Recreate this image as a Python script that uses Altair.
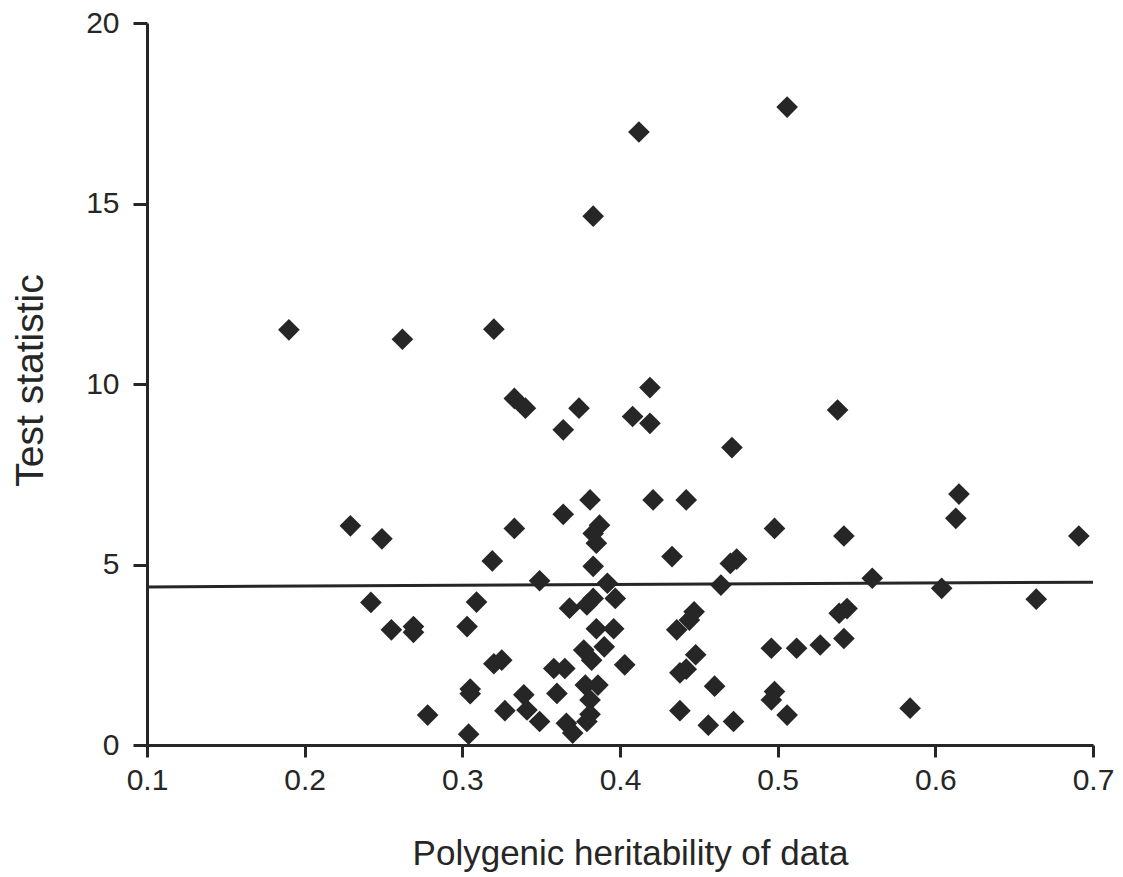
import altair as alt
import pandas as pd

# Scatter points (heritability, test statistic)
herit = [0.190, 0.262, 0.320, 0.383, 0.412, 0.506, 0.333, 0.340, 0.374, 0.364,
         0.419, 0.408, 0.419, 0.471, 0.538, 0.381, 0.421, 0.442, 0.364, 0.333,
         0.498, 0.387, 0.383, 0.385, 0.229, 0.249, 0.319, 0.383, 0.433, 0.470,
         0.474, 0.615, 0.613, 0.691, 0.542, 0.349, 0.392, 0.464, 0.560, 0.604,
         0.664, 0.242, 0.309, 0.397, 0.383, 0.379, 0.368, 0.447, 0.444, 0.436,
         0.539, 0.544, 0.255, 0.269, 0.269, 0.303, 0.385, 0.396, 0.542, 0.377,
         0.390, 0.382, 0.403, 0.496, 0.512, 0.527, 0.320, 0.325, 0.358, 0.365,
         0.448, 0.442, 0.438, 0.305, 0.305, 0.360, 0.339, 0.341, 0.327, 0.349,
         0.378, 0.386, 0.381, 0.381, 0.379, 0.366, 0.370, 0.304, 0.278, 0.460,
         0.498, 0.496, 0.506, 0.438, 0.456, 0.472, 0.584]
stat = [11.50, 11.24, 11.52, 14.65, 16.98, 17.67, 9.60, 9.33, 9.33, 8.73,
        9.90, 9.10, 8.91, 8.24, 9.28, 6.79, 6.79, 6.79, 6.39, 6.00,
        6.00, 6.09, 5.86, 5.59, 6.07, 5.71, 5.10, 4.95, 5.22, 5.03,
        5.15, 6.95, 6.28, 5.79, 5.79, 4.55, 4.48, 4.43, 4.62, 4.34,
        4.04, 3.95, 3.96, 4.06, 4.06, 3.88, 3.79, 3.69, 3.46, 3.19,
        3.65, 3.78, 3.19, 3.28, 3.12, 3.28, 3.22, 3.22, 2.95, 2.63,
        2.72, 2.35, 2.22, 2.68, 2.68, 2.77, 2.25, 2.35, 2.12, 2.12,
        2.50, 2.10, 2.00, 1.55, 1.42, 1.43, 1.39, 0.97, 0.95, 0.65,
        1.66, 1.66, 1.25, 0.85, 0.65, 0.60, 0.33, 0.30, 0.83, 1.63,
        1.48, 1.25, 0.83, 0.95, 0.55, 0.65, 1.02]

# Fitted line end points
line_x = [0.1, 0.7]
line_y = [4.38, 4.51]

x_ticks = [0.1, 0.2, 0.3, 0.4, 0.5, 0.6, 0.7]
y_ticks = [0, 5, 10, 15, 20]

pts = pd.DataFrame({"h": herit, "t": stat})
ln = pd.DataFrame({"h": line_x, "t": line_y})

FONT = "Liberation Sans"
INK = "#262626"

xscale = alt.Scale(domain=[0.1, 0.7], nice=False, zero=False)
yscale = alt.Scale(domain=[0, 20], nice=False)

xaxis = alt.Axis(title="Polygenic heritability of data", values=x_ticks, format=".1f",
                 grid=False, domainColor=INK, domainWidth=3, tickColor=INK, tickWidth=3,
                 tickSize=12, labelPadding=8, labelFont=FONT, labelFontSize=30,
                 labelColor=INK, labelFlush=False,
                 titleFont=FONT, titleFontSize=35, titleFontWeight="normal",
                 titleColor=INK, titleX=483, titleY=108, titleBaseline="middle",
                 titleAlign="center")
yaxis = alt.Axis(title="Test statistic", values=y_ticks, format="d",
                 grid=False, domainColor=INK, domainWidth=3, tickColor=INK, tickWidth=3,
                 tickSize=14, labelPadding=14, labelFont=FONT, labelFontSize=30,
                 labelColor=INK, labelFlush=False,
                 titleFont=FONT, titleFontSize=39, titleFontWeight="normal",
                 titleColor=INK, titleX=-117, titleY=357, titleAngle=270,
                 titleBaseline="middle", titleAlign="center")

points = alt.Chart(pts).mark_point(shape="diamond", filled=True, size=470,
                                   color=INK, opacity=1).encode(
    x=alt.X("h:Q", scale=xscale, axis=xaxis),
    y=alt.Y("t:Q", scale=yscale, axis=yaxis),
)

fit = alt.Chart(ln).mark_line(color=INK, strokeWidth=3).encode(
    x=alt.X("h:Q", scale=xscale),
    y=alt.Y("t:Q", scale=yscale),
)

chart = alt.layer(fit, points).properties(
    width=946, height=722,
    autosize=alt.AutoSizeParams(type="none"),
    padding={"left": 147, "top": 23, "right": 30, "bottom": 132},
    background="white",
).configure_view(stroke=None)

chart.save("out.html", embed_options={"renderer": "svg", "actions": False})
